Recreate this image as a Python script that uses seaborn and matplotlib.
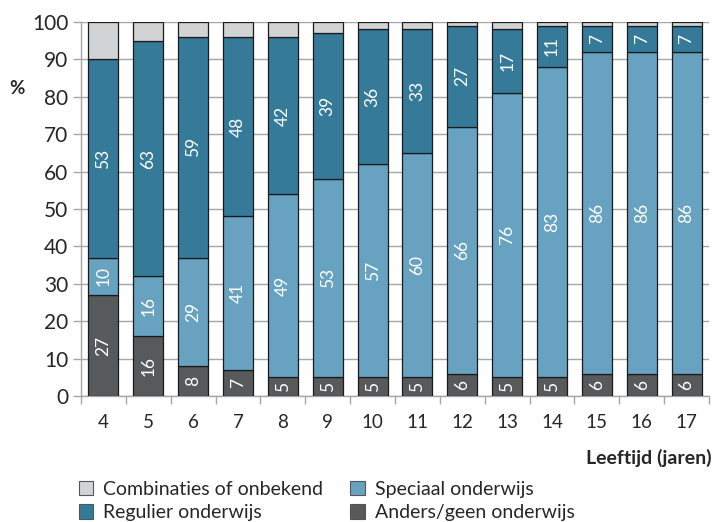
import numpy as np
import pandas as pd
import matplotlib
matplotlib.use("Agg")
import matplotlib.pyplot as plt
import seaborn as sns
from matplotlib.patches import Patch

# Leeftijd (jaren)
ages = [4, 5, 6, 7, 8, 9, 10, 11, 12, 13, 14, 15, 16, 17]
# Percentages per type onderwijs
anders_geen = [27, 16, 8, 7, 5, 5, 5, 5, 6, 5, 5, 6, 6, 6]
speciaal = [10, 16, 29, 41, 49, 53, 57, 60, 66, 76, 83, 86, 86, 86]
regulier = [53, 63, 59, 48, 42, 39, 36, 33, 27, 17, 11, 7, 7, 7]
combinaties = [100 - a - s - r for a, s, r in zip(anders_geen, speciaal, regulier)]

series = [
    ("Anders/geen onderwijs", anders_geen, "#58595b", True),
    ("Speciaal onderwijs", speciaal, "#67a2c1", True),
    ("Regulier onderwijs", regulier, "#357b99", True),
    ("Combinaties of onbekend", combinaties, "#d1d3d4", False),
]

sns.set_theme(style="white")
plt.rcParams["font.family"] = ["Lato", "DejaVu Sans"]

fig = plt.figure(figsize=(7.13, 5.22), dpi=100)
ax = fig.add_axes([81 / 713, 1 - 396 / 522, 628 / 713, 374 / 522])

df = pd.DataFrame({"age": [str(a) for a in ages]})
bottom = np.zeros(len(ages))
for name, vals, color, labelled in series:
    df[name] = vals
    sns.barplot(data=df, x="age", y=name, color=color, width=0.67,
                edgecolor="#1a1a1a", linewidth=0.9, saturation=1,
                bottom=bottom, ax=ax, zorder=3)
    if labelled:
        for i, v in enumerate(vals):
            ax.text(i, bottom[i] + v / 2, str(v), rotation=90,
                    ha="center", va="center", color="white",
                    fontsize=12.5, zorder=5)
    bottom = bottom + np.array(vals)

ax.set_ylim(0, 100)
ax.set_xlim(-0.5, len(ages) - 0.5)
ax.set_yticks(range(0, 101, 10))
ax.yaxis.grid(True, color="#a6a6a6", linewidth=1.0, zorder=0)
ax.set_axisbelow(True)
ax.set_xlabel("")
ax.set_ylabel("")
for side in ["top", "right"]:
    ax.spines[side].set_visible(False)
for side in ["left", "bottom"]:
    ax.spines[side].set_color("#a6a6a6")
    ax.spines[side].set_linewidth(1.0)

ax.tick_params(axis="y", length=6, width=1, color="#a6a6a6",
               labelsize=15, pad=3, left=True)
ax.set_xticks(range(len(ages)))
ax.set_xticklabels([str(a) for a in ages], fontsize=13.5)
ax.tick_params(axis="x", length=0, pad=13)
# tick marks between categories
ax.set_xticks(np.arange(-0.5, len(ages), 1), minor=True)
ax.tick_params(axis="x", which="minor", length=6, width=1,
               color="#a6a6a6", bottom=True)

fig.text(17 / 713, 1 - 88 / 522, "%", fontsize=13.5, fontweight="bold",
         ha="center", va="center")
fig.text(712 / 713, 1 - 458 / 522, "Leeftijd (jaren)", fontsize=14,
         fontweight="bold", ha="right", va="center")

handles = [Patch(facecolor=c, edgecolor="#555555", linewidth=0.8, label=n)
           for n, _, c, _ in [series[3], series[2], series[1], series[0]]]
fig.legend(handles=handles, loc="upper left", ncol=2,
           bbox_to_anchor=(71 / 713, 1 - 473 / 522), frameon=False,
           fontsize=14, handlelength=0.75, handleheight=0.75,
           handletextpad=0.5, columnspacing=1.4, labelspacing=0.33,
           borderaxespad=0)

fig.savefig("out.png", dpi=100)
